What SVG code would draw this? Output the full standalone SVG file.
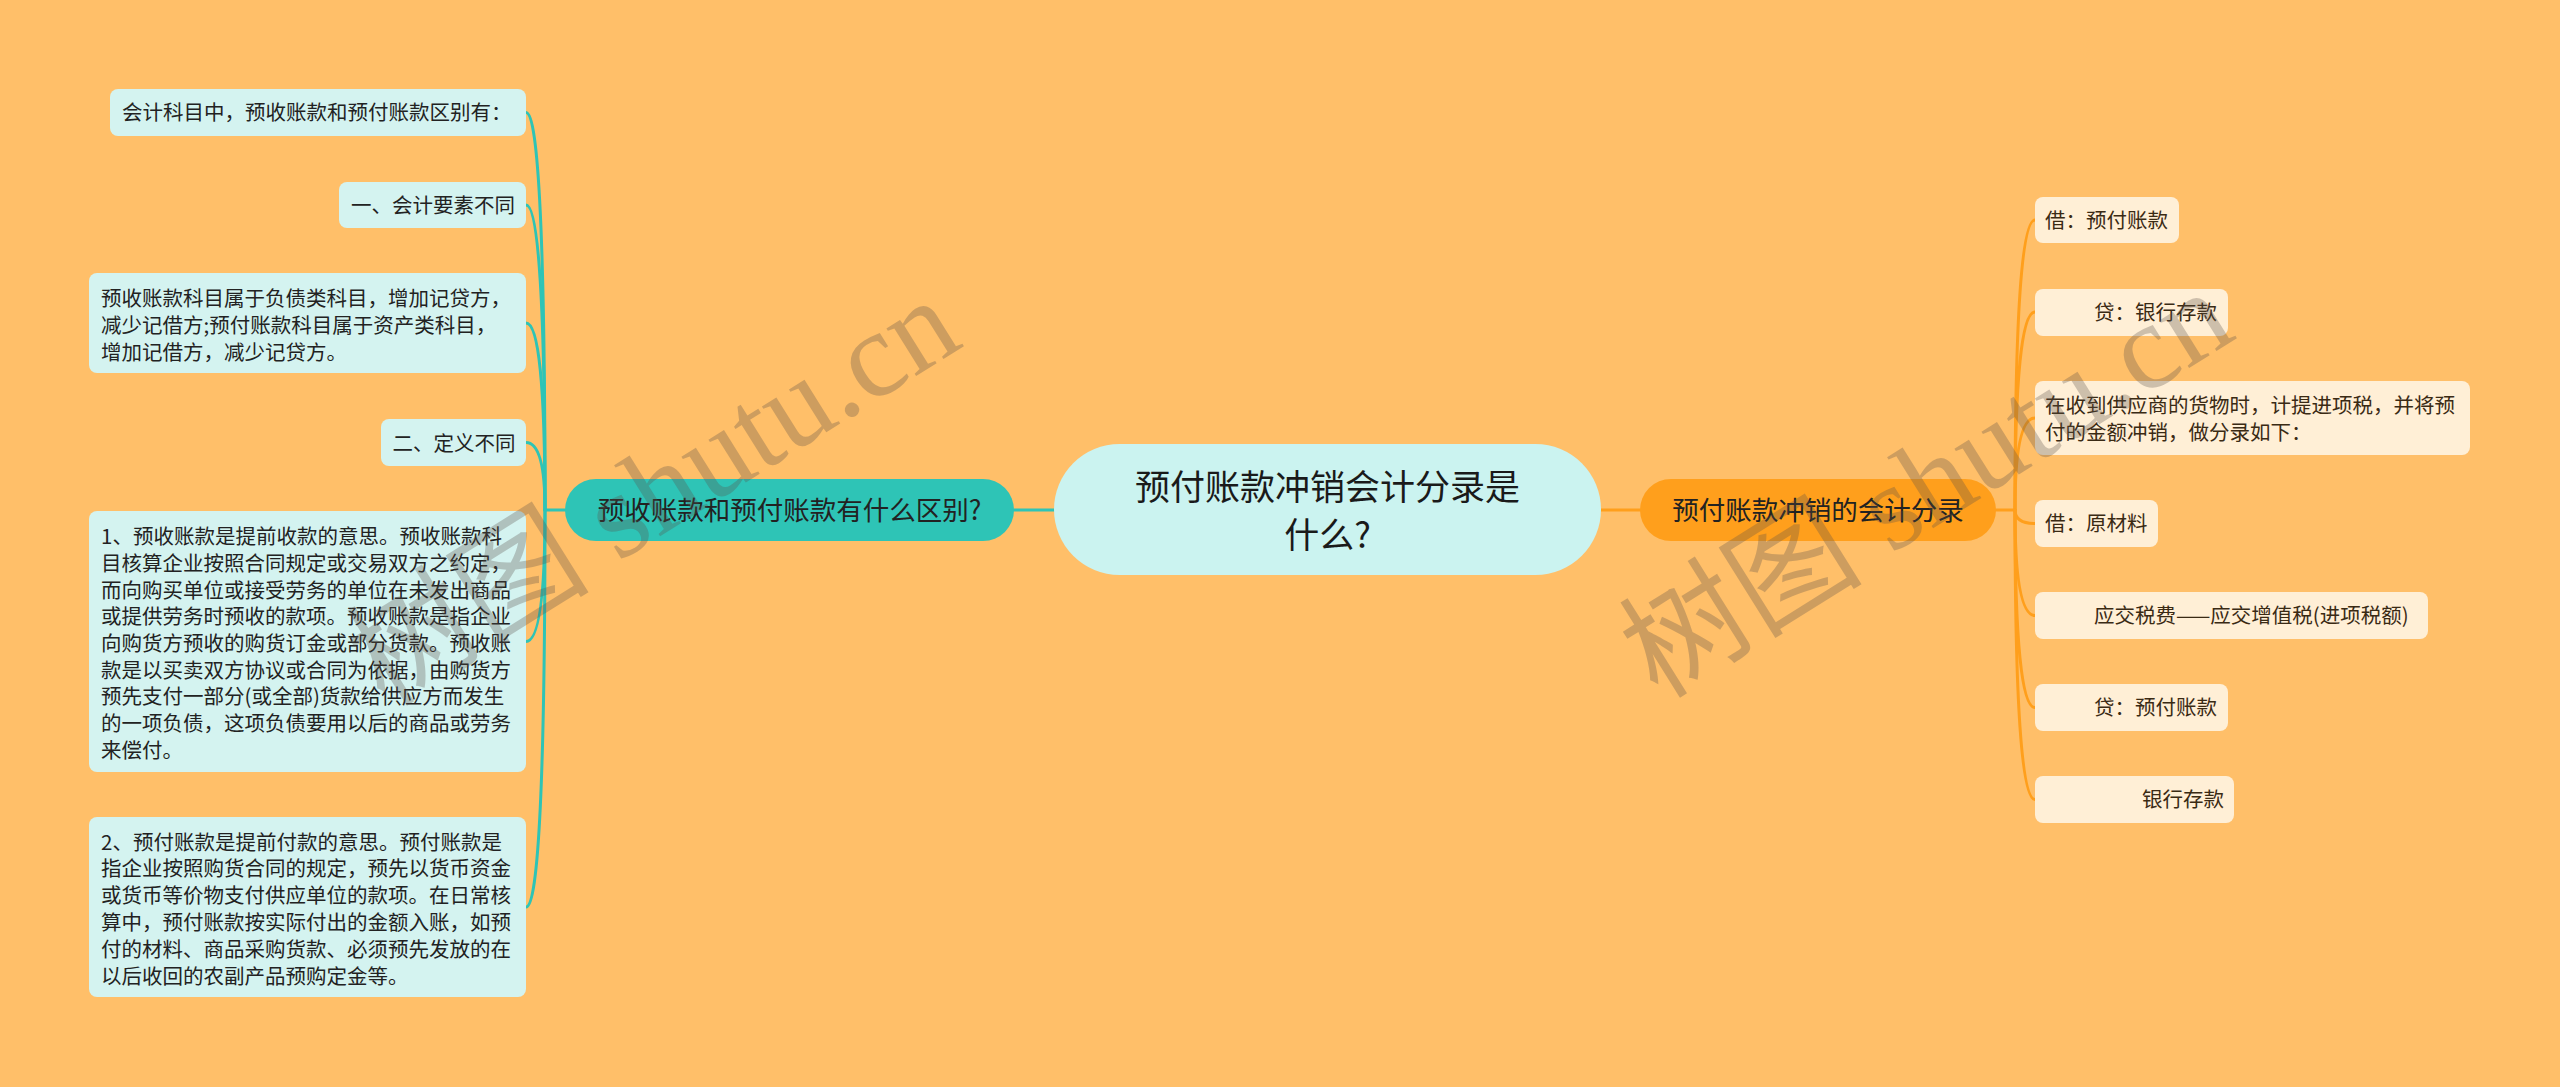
<svg xmlns="http://www.w3.org/2000/svg" width="2560" height="1087" viewBox="0 0 2560 1087">
<style>
text{font-family:"Noto Sans CJK SC","Noto Sans",sans-serif;}
.bg{fill:#FFBF69;}
.lleaf{fill:#D4F3F0;}
.rleaf{fill:#FFEFD6;}
.lt{font-size:20.5px;fill:#222;}
.rt{font-size:20.5px;fill:#3a2a14;}
.l1t{font-size:26.5px;fill:#222;}
.ct{font-size:35px;fill:#1a1a1a;text-anchor:middle;}
.tc{fill:none;stroke:#2EC4B6;stroke-width:3;stroke-linecap:round;}
.oc{fill:none;stroke:#FF9F1C;stroke-width:3;stroke-linecap:round;}
.wm{font-family:"Liberation Serif","Noto Sans CJK SC",serif;font-size:122px;fill:#5a5048;fill-opacity:0.3;}
</style>
<rect class="bg" x="0" y="0" width="2560" height="1087"/>

<g id="connectors">
<path class="tc" stroke-width="4" d="M1014,510 L1054,510"/>
<path class="oc" stroke-width="4" d="M1601,510 L1640,510"/>
<path class="tc" d="M565,510 L545,510"/>
<path class="tc" d="M545,510 Q545,112.5 526,112.5"/>
<path class="tc" d="M545,510 Q545,205 526,205"/>
<path class="tc" d="M545,510 Q545,323 526,323"/>
<path class="tc" d="M545,510 Q545,442.5 526,442.5"/>
<path class="tc" d="M545,510 Q545,641.5 526,641.5"/>
<path class="tc" d="M545,510 Q545,907 526,907"/>
<path class="oc" d="M1996,510 L2015,510"/>
<path class="oc" d="M2015,510 Q2015,220 2035,220"/>
<path class="oc" d="M2015,510 Q2015,312 2035,312"/>
<path class="oc" d="M2015,510 Q2015,418 2035,418"/>
<path class="oc" d="M2015,510 Q2015,523.5 2035,523.5"/>
<path class="oc" d="M2015,510 Q2015,615.5 2035,615.5"/>
<path class="oc" d="M2015,510 Q2015,707.5 2035,707.5"/>
<path class="oc" d="M2015,510 Q2015,799.5 2035,799.5"/>
</g>

<g id="center">
<rect x="1054" y="444" width="547" height="131" rx="65.5" fill="#CBF3F0"/>
<text class="ct" x="1327.5" y="500">预付账款冲销会计分录是</text>
<text class="ct" x="1327.5" y="548">什么?</text>
</g>

<g id="branch-left">
<rect x="565" y="479" width="449" height="62" rx="31" fill="#2EC4B6"/>
<text class="l1t" x="789.5" y="520" text-anchor="middle">预收账款和预付账款有什么区别?</text>
</g>

<g id="branch-right">
<rect x="1640" y="479" width="356" height="62" rx="31" fill="#FF9F1C"/>
<text class="l1t" x="1818" y="520" text-anchor="middle" fill="#3a2308">预付账款冲销的会计分录</text>
</g>

<g id="l-1">
<rect class="lleaf" x="110" y="89" width="416" height="47" rx="8"/>
<text class="lt" x="122" y="120">会计科目中，预收账款和预付账款区别有：</text>
</g>
<g id="l-2">
<rect class="lleaf" x="339" y="182" width="187" height="46" rx="8"/>
<text class="lt" x="351" y="213">一、会计要素不同</text>
</g>
<g id="l-3">
<rect class="lleaf" x="89" y="273" width="437" height="100" rx="8"/>
<text class="lt" x="101" y="305.5">预收账款科目属于负债类科目，增加记贷方，</text>
<text class="lt" x="101" y="332.5">减少记借方;预付账款科目属于资产类科目，</text>
<text class="lt" x="101" y="359.5">增加记借方，减少记贷方。</text>
</g>
<g id="l-4">
<rect class="lleaf" x="381" y="419" width="145" height="47" rx="8"/>
<text class="lt" x="392.5" y="451">二、定义不同</text>
</g>
<g id="l-5">
<rect class="lleaf" x="89" y="511" width="437" height="261" rx="8"/>
<text class="lt" x="101" y="544">1、预收账款是提前收款的意思。预收账款科</text>
<text class="lt" x="101" y="571">目核算企业按照合同规定或交易双方之约定，</text>
<text class="lt" x="101" y="597.5">而向购买单位或接受劳务的单位在未发出商品</text>
<text class="lt" x="101" y="624">或提供劳务时预收的款项。预收账款是指企业</text>
<text class="lt" x="101" y="651">向购货方预收的购货订金或部分货款。预收账</text>
<text class="lt" x="101" y="677.5">款是以买卖双方协议或合同为依据，由购货方</text>
<text class="lt" x="101" y="704">预先支付一部分(或全部)货款给供应方而发生</text>
<text class="lt" x="101" y="731">的一项负债，这项负债要用以后的商品或劳务</text>
<text class="lt" x="101" y="757.5">来偿付。</text>
</g>
<g id="l-6">
<rect class="lleaf" x="89" y="817" width="437" height="180" rx="8"/>
<text class="lt" x="101" y="849.5">2、预付账款是提前付款的意思。预付账款是</text>
<text class="lt" x="101" y="876">指企业按照购货合同的规定，预先以货币资金</text>
<text class="lt" x="101" y="903">或货币等价物支付供应单位的款项。在日常核</text>
<text class="lt" x="101" y="930">算中，预付账款按实际付出的金额入账，如预</text>
<text class="lt" x="101" y="956.5">付的材料、商品采购货款、必须预先发放的在</text>
<text class="lt" x="101" y="983.5">以后收回的农副产品预购定金等。</text>
</g>

<g id="r-1">
<rect class="rleaf" x="2035" y="197" width="144" height="46" rx="8"/>
<text class="rt" x="2045" y="227.5">借：预付账款</text>
</g>
<g id="r-2">
<rect class="rleaf" x="2035" y="289" width="193" height="47" rx="8"/>
<text class="rt" x="2094" y="320">贷：银行存款</text>
</g>
<g id="r-3">
<rect class="rleaf" x="2035" y="381" width="435" height="74" rx="8"/>
<text class="rt" x="2045" y="412.5">在收到供应商的货物时，计提进项税，并将预</text>
<text class="rt" x="2045" y="439.5">付的金额冲销，做分录如下：</text>
</g>
<g id="r-4">
<rect class="rleaf" x="2035" y="500" width="123" height="47" rx="8"/>
<text class="rt" x="2045" y="531">借：原材料</text>
</g>
<g id="r-5">
<rect class="rleaf" x="2035" y="592" width="393" height="47" rx="8"/>
<text class="rt" x="2094" y="623">应交税费——应交增值税(进项税额)</text>
</g>
<g id="r-6">
<rect class="rleaf" x="2035" y="684" width="193" height="47" rx="8"/>
<text class="rt" x="2094" y="715">贷：预付账款</text>
</g>
<g id="r-7">
<rect class="rleaf" x="2035" y="776" width="199" height="47" rx="8"/>
<text class="rt" x="2142" y="807">银行存款</text>
</g>

<g id="watermarks">
<text class="wm" transform="translate(385,708) rotate(-32)">树图 shutu.cn</text>
<text class="wm" transform="translate(1658,700) rotate(-32)">树图 shutu.cn</text>
</g>
</svg>
